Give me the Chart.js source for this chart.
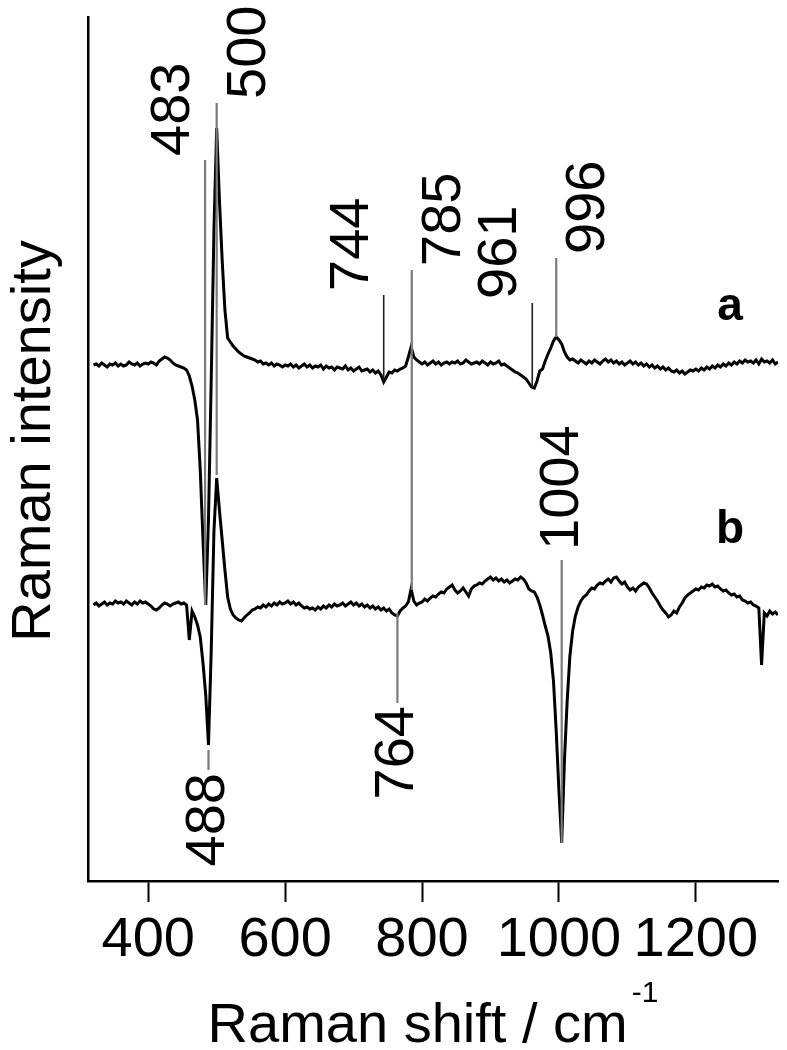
<!DOCTYPE html>
<html>
<head>
<meta charset="utf-8">
<title>Raman spectra a / b</title>
<script src="https://cdn.jsdelivr.net/npm/chart.js@4.4.1/dist/chart.umd.min.js"></script>
<style>
  html, body { margin: 0; padding: 0; background: #ffffff; }
  #contenedor { width: 787px; height: 1050px; }
</style>
</head>
<body>
<div id="contenedor"><canvas id="espectro" width="787" height="1050"></canvas></div>
<script>
// Raman shift grid: one point every 4 cm-1, starting at 320 cm-1
const shiftStart = 320;
const shiftStep = 4;

// Trace a (upper spectrum), arbitrary intensity units
const traceA = [
  516, 517, 515, 518, 516, 514, 517, 516, 518, 515,
  517, 515, 516, 519, 517, 516, 518, 515, 517, 518,
  517, 519, 518, 516, 520, 522, 524, 523, 521, 518,
  516, 515, 514, 513, 511, 505, 495, 481, 461, 411,
  341, 276, 361, 501, 651, 753, 681, 621, 571, 543,
  539, 535, 532, 529, 527, 525, 524, 523, 522, 521,
  519, 520, 517, 518, 516, 518, 515, 517, 516, 514,
  516, 515, 517, 514, 516, 513, 515, 517, 514, 516,
  513, 515, 514, 516, 512, 515, 513, 514, 511, 514,
  513, 512, 515, 511, 513, 510, 512, 514, 510, 511,
  512, 509, 511, 508, 510, 506, 499, 504, 509, 508,
  511, 510, 512, 513, 515, 524, 534, 524, 521, 519,
  517, 519, 516, 518, 520, 517, 519, 516, 518, 519,
  517, 519, 518, 520, 517, 518, 521, 519, 517, 518,
  519, 517, 520, 518, 516, 519, 517, 518, 520, 516,
  517, 515, 513, 511, 509, 508, 506, 504, 502, 498,
  494, 493, 500, 510, 512, 520, 527, 533, 540, 544,
  541, 537, 529, 524, 521, 522, 520, 518, 521, 519,
  517, 520, 518, 521, 519, 517, 520, 522, 519, 521,
  518, 520, 517, 519, 516, 518, 520, 517, 519, 516,
  518, 515, 517, 514, 516, 513, 515, 512, 514, 511,
  513, 510, 509, 511, 508, 510, 507, 509, 511, 510,
  512, 510, 513, 511, 514, 512, 515, 513, 516, 514,
  517, 515, 518, 516, 519, 517, 520, 518, 521, 519,
  520, 518, 521, 517, 522, 519, 520, 518, 521, 517,
  519
];

// Trace b (lower spectrum), arbitrary intensity units
const traceB = [
  276, 278, 275, 277, 279, 276, 278, 277, 280, 278,
  279, 277, 280, 278, 276, 279, 277, 280, 278, 279,
  277, 275, 272, 271, 273, 276, 278, 277, 275, 277,
  278, 279, 277, 278, 276, 241, 270, 264, 256, 244,
  218, 186, 136, 230, 350, 403, 371, 341, 311, 284,
  272, 266, 263, 261, 260, 263, 266, 268, 271, 272,
  274, 273, 276, 274, 277, 275, 278, 276, 279, 277,
  278, 280, 277, 279, 276, 278, 275, 273, 274, 272,
  273, 271, 274, 272, 275, 273, 276, 274, 277, 275,
  276, 278, 275, 277, 279, 276, 278, 275, 277, 274,
  276, 273, 275, 272, 274, 271, 273, 270, 272, 268,
  266, 265, 270, 273, 275, 279, 292, 280, 276, 278,
  279, 282, 280, 283, 285, 284, 287, 289, 288, 292,
  294, 296, 291, 288, 290, 293, 289, 285, 292, 295,
  296, 298, 297, 300, 302, 304, 301, 303, 300, 302,
  299, 301, 298, 300, 302, 301, 304, 302, 298, 292,
  290, 289, 284, 276, 266, 255, 245, 228, 200, 150,
  90, 38, 120, 180, 225, 250, 265, 274, 280, 284,
  286, 290, 293, 292, 296, 298, 297, 300, 302, 299,
  303, 304, 300, 297, 299, 294, 291, 293, 290, 294,
  296, 298, 297, 293, 288, 284, 280, 275, 271, 268,
  264, 266, 270, 268, 274, 278, 283, 286, 288, 290,
  292, 291, 294, 293, 296, 295, 297, 294, 295, 292,
  290, 291, 288, 286, 287, 284, 285, 281, 280, 278,
  279, 276, 275, 273, 216, 268, 265, 270, 267, 269,
  266
];

const xTicks = [400, 600, 800, 1000, 1200];

// Peak markers: position, label, line extent (intensity units), label side
const peakShifts = [483, 500, 744, 785, 961, 996, 1004, 488, 764];
const peakLabels = ['483', '500', '744', '785', '961', '996', '1004', '488', '764'];
const peakTop = [721, 778, 586, 611, 578, 623, 321, 131, 268];
const peakBottom = [276, 406, 501, 291, 493, 544, 38, 111, 178];
const peakSide = ['left', 'right', 'left', 'right', 'left', 'right', 'center', 'below', 'below'];

const traceNames = ['a', 'b'];
const traceNameShift = [1250, 1250];
const traceNameLevel = [561, 338];

const shifts = traceA.map((_, i) => shiftStart + i * shiftStep);
const toPoints = serie => serie.map((v, i) => ({ x: shifts[i], y: v }));

const FUENTE = "'Liberation Sans', Arial, Helvetica, sans-serif";

// Marcadores de picos, nombres de trazas y títulos de ejes
const rotulos = {
  id: 'rotulos',
  afterDatasetsDraw(chart) {
    const { ctx, chartArea, scales: { x, y } } = chart;
    const oscuras = new Set([744, 961]);
    const desplaz = { left: -16, right: 48, center: 16, below: 16 };

    ctx.save();
    peakShifts.forEach((p, i) => {
      const px = x.getPixelForValue(p);
      ctx.beginPath();
      ctx.moveTo(px, y.getPixelForValue(peakTop[i]));
      ctx.lineTo(px, y.getPixelForValue(peakBottom[i]));
      ctx.strokeStyle = oscuras.has(p) ? '#222222' : '#7a7a7a';
      ctx.lineWidth = oscuras.has(p) ? 1.6 : 2.2;
      ctx.stroke();
    });

    ctx.fillStyle = '#000000';
    ctx.font = '56px ' + FUENTE;
    ctx.textBaseline = 'alphabetic';
    peakShifts.forEach((p, i) => {
      const side = peakSide[i];
      const px = x.getPixelForValue(p) + desplaz[side];
      ctx.save();
      if (side === 'below') {
        ctx.translate(px, y.getPixelForValue(peakBottom[i]) + 3);
        ctx.rotate(-Math.PI / 2);
        ctx.textAlign = 'right';
      } else {
        ctx.translate(px, y.getPixelForValue(peakTop[i]) - (side === 'center' ? 10 : 4));
        ctx.rotate(-Math.PI / 2);
        ctx.textAlign = 'left';
      }
      ctx.fillText(peakLabels[i], 0, 0);
      ctx.restore();
    });

    // a / b
    ctx.font = 'bold 46px ' + FUENTE;
    ctx.textAlign = 'center';
    traceNames.forEach((n, i) => {
      ctx.fillText(n, x.getPixelForValue(traceNameShift[i]), y.getPixelForValue(traceNameLevel[i]));
    });

    // eje Y
    ctx.font = '56px ' + FUENTE;
    ctx.save();
    ctx.translate(chartArea.left - 38, (chartArea.top + chartArea.bottom) / 2 - 8);
    ctx.rotate(-Math.PI / 2);
    ctx.textAlign = 'center';
    ctx.fillText('Raman intensity', 0, 0);
    ctx.restore();

    // eje X con superíndice
    const principal = 'Raman shift / cm';
    const sup = '-1';
    ctx.font = '56px ' + FUENTE;
    const w1 = ctx.measureText(principal).width;
    ctx.font = '30px ' + FUENTE;
    const w2 = ctx.measureText(sup).width;
    const x0 = (chartArea.left + chartArea.right) / 2 - (w1 + w2 + 4) / 2;
    ctx.textAlign = 'left';
    ctx.font = '56px ' + FUENTE;
    ctx.fillText(principal, x0, chartArea.bottom + 161);
    ctx.font = '30px ' + FUENTE;
    ctx.fillText(sup, x0 + w1 + 4, chartArea.bottom + 121);
    ctx.restore();
  }
};

const canvas = document.getElementById('espectro');
new Chart(canvas.getContext('2d'), {
  type: 'line',
  data: {
    datasets: [
      { label: 'a', data: toPoints(traceA), borderColor: '#000000', borderWidth: 3, pointRadius: 0, fill: false, tension: 0 },
      { label: 'b', data: toPoints(traceB), borderColor: '#000000', borderWidth: 3, pointRadius: 0, fill: false, tension: 0 }
    ]
  },
  options: {
    responsive: false,
    animation: false,
    events: [],
    layout: { padding: { top: 17, right: 9, left: 0, bottom: 0 } },
    plugins: { legend: { display: false }, tooltip: { enabled: false } },
    scales: {
      x: {
        type: 'linear',
        min: 312,
        max: 1320,
        afterBuildTicks: scale => { scale.ticks = xTicks.map(v => ({ value: v })); },
        afterFit: scale => { scale.height = 169; },
        grid: { display: true, drawOnChartArea: false, drawTicks: true, tickLength: 21, tickColor: '#000000', tickWidth: 2 },
        border: { display: true, color: '#000000', width: 2.5 },
        ticks: {
          color: '#000000',
          font: { family: FUENTE, size: 56 },
          padding: 5,
          maxRotation: 0,
          autoSkip: false,
          callback: v => String(v)
        }
      },
      y: {
        type: 'linear',
        min: 0,
        max: 864,
        afterFit: scale => { scale.width = 88; },
        grid: { display: false },
        border: { display: true, color: '#000000', width: 2.5 },
        ticks: { display: false }
      }
    }
  },
  plugins: [rotulos]
});
</script>
</body>
</html>
